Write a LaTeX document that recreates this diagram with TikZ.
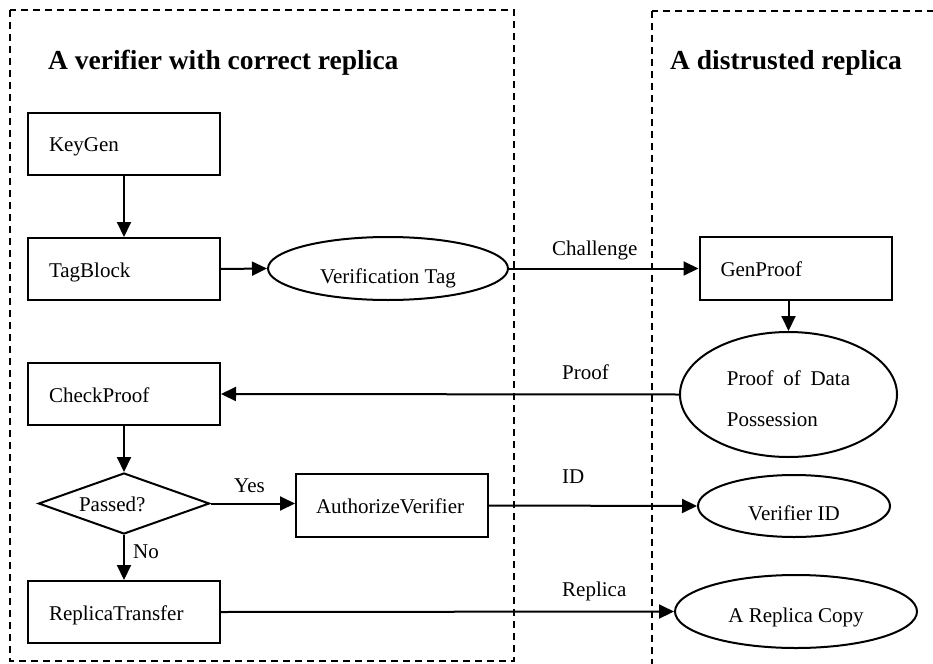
\documentclass[tikz,border=0pt]{standalone}
\usepackage{fontspec}
\setmainfont{Liberation Serif}
\usetikzlibrary{shapes.geometric,arrows.meta}
\begin{document}
\begin{tikzpicture}[x=1pt,y=-1pt,
  every node/.style={font=\fontsize{21}{25}\selectfont, inner sep=0pt},
  title/.style={font=\fontsize{27.5}{30}\selectfont\bfseries, anchor=base west},
  lab/.style={anchor=base west},
  zone/.style={draw, line width=1.5pt, dash pattern=on 7pt off 5pt},
  proc/.style={draw, line width=2pt, minimum width=192pt, minimum height=62pt,
    text width=150pt, align=left, text height=20pt, text depth=4pt},
  ell/.style={draw, ellipse, line width=2pt},
  arr/.style={line width=2pt, -{Triangle[length=15pt,width=14pt]}}]
\useasboundingbox (0,0) rectangle (933,663);
% zones
\draw[zone] (10,10) rectangle (514,661);
\draw[zone] (652,11) rectangle (960,690);
\node[title] (t1) at (48,70) {A verifier with correct replica};
\node[title] (t2) at (670,70) {A distrusted replica};
% left side
\node[proc] (key) at (124,144) {KeyGen};
\node[proc] (tag) at (124,269) {TagBlock};
\node[proc] (check) at (124,394) {CheckProof};
\node[draw, diamond, line width=2pt, aspect=2.8, minimum width=171pt, minimum height=61pt,
  text width=90pt, align=left, text height=20pt, text depth=4pt] (pass) at (124,503.5) {Passed?};
\node[proc, minimum height=63pt, text width=152pt] (auth) at (392,505.5) {AuthorizeVerifier};
\node[proc] (rt) at (124,612) {ReplicaTransfer};
\node[ell, minimum width=240pt, minimum height=63pt, text height=31pt, text depth=2pt] (vt) at (388,268.5) {Verification Tag};
% right side
\node[proc, minimum height=63pt] (gen) at (795.5,268.5) {GenProof};
\node[ell, minimum width=217pt, minimum height=125pt, align=left] (pdp) at (788.5,394.5)
  {\rule{0pt}{24pt}Proof\ \hspace{4.5pt}of\ \hspace{4.5pt}Data\\[16pt]Possession};
\node[ell, minimum width=192pt, minimum height=62pt, text height=30pt, text depth=2pt] (vid) at (794,506) {Verifier ID};
\node[ell, minimum width=242pt, minimum height=73pt, text height=24pt, text depth=3pt] (rc) at (796,611.5) {A Replica Copy};
% connectors
\draw[arr] (key.south) -- (tag.north);
\draw[arr] (tag.east) -- (vt.west);
\draw[arr] (vt.east) -- (gen.west);
\draw[arr] (gen.south -| pdp.north) -- (pdp.north);
\draw[arr] (pdp.west) -- (check.east);
\draw[arr] (check.south) -- (pass.north);
\draw[arr] (pass.east) -- (pass.east -| auth.west);
\draw[arr] (auth.east) -- (vid.west);
\draw[arr] (pass.south) -- (rt.north);
\draw[arr] (rt.east) -- (rc.west);
% labels
\node[lab] (lch) at (552,255) {Challenge};
\node[lab] (lpr) at (562,379) {Proof};
\node[lab] (lid) at (562,483) {ID};
\node[lab] (lre) at (562,596) {Replica};
\node[lab] (lye) at (234,492) {Yes};
\node[lab] (lno) at (133,558) {No};
\end{tikzpicture}
\end{document}
